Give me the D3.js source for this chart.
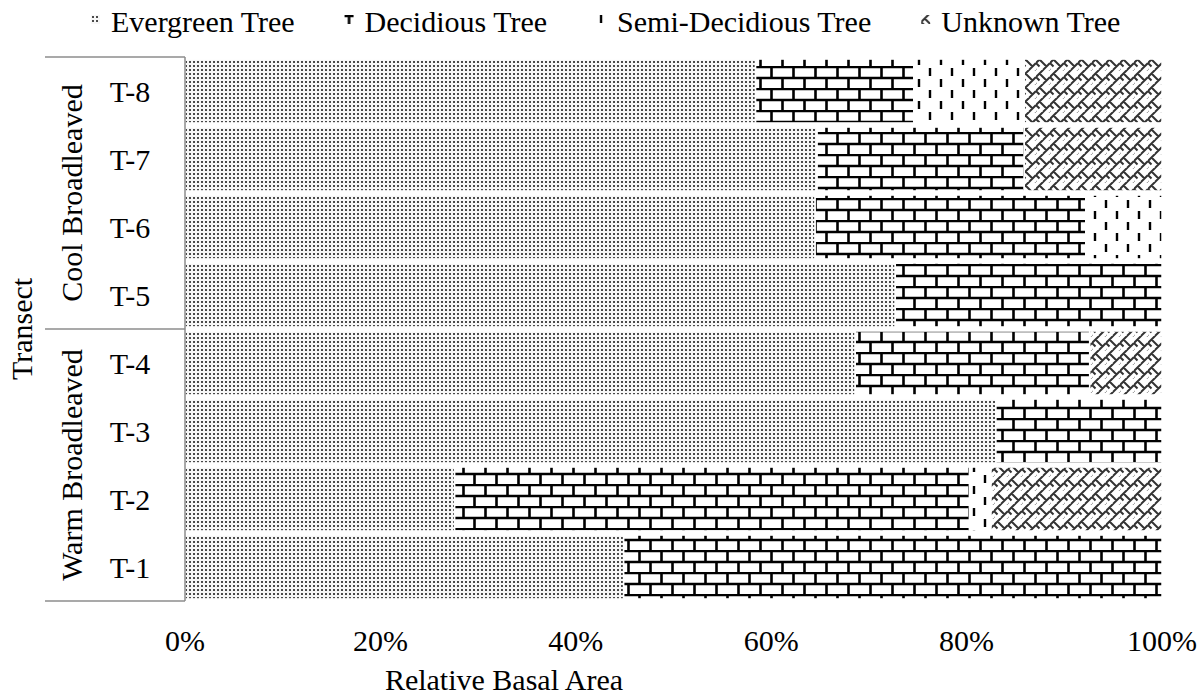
<!DOCTYPE html>
<html><head><meta charset="utf-8">
<script src="https://cdn.jsdelivr.net/npm/d3@7"></script>
<style>body{margin:0;background:#fff}svg{display:block}text{font-family:"Liberation Serif","Times New Roman",serif;fill:#000}</style>
</head><body><svg id="c" width="1204" height="696"></svg>
<script>
const transects = ["T-1","T-2","T-3","T-4","T-5","T-6","T-7","T-8"];
const groups = ["Warm Broadleaved","Warm Broadleaved","Warm Broadleaved","Warm Broadleaved","Cool Broadleaved","Cool Broadleaved","Cool Broadleaved","Cool Broadleaved"];
const seriesNames = ["Evergreen Tree","Decidious Tree","Semi-Decidious Tree","Unknown Tree"];
const evergreen     = [44.9, 27.6, 83.0, 68.6, 72.7, 64.5, 64.7, 58.4];
const decidious     = [55.1, 52.7, 17.0, 24.0, 27.3, 27.7, 21.2, 16.2];
const semiDecidious = [0,    2.2,  0,    0,    0,    7.8,  0,    11.3];
const unknown       = [0,    17.5, 0,    7.4,  0,    0,    14.1, 14.1];
const xTicks = [0, 0.2, 0.4, 0.6, 0.8, 1.0];

const svg = d3.select("#c");
const L = 185, R = 1162, T = 57, B = 601;
const FS = 30;
const defs = svg.append("defs");

// patterns
const p0 = defs.append("pattern").attr("id","pat0").attr("patternUnits","userSpaceOnUse").attr("width",4).attr("height",4);
p0.append("rect").attr("width",4).attr("height",4).attr("fill","#f7f7f7");
p0.append("rect").attr("x",1).attr("y",1).attr("width",2).attr("height",2).attr("fill","#4a4a4a");

const p1 = defs.append("pattern").attr("id","pat1").attr("patternUnits","userSpaceOnUse").attr("width",22).attr("height",22);
p1.append("rect").attr("width",22).attr("height",22).attr("fill","#fff");
p1.append("path").attr("d","M0,1 H22 M0,12 H22 M1.5,1 V12 M12.5,12 V22")
  .attr("stroke","#000").attr("stroke-width",2.6).attr("fill","none");

const p2 = defs.append("pattern").attr("id","pat2").attr("patternUnits","userSpaceOnUse").attr("width",22).attr("height",22);
p2.append("rect").attr("width",22).attr("height",22).attr("fill","#fff");
p2.append("path").attr("d","M6,2 V10 M17,13 V21").attr("stroke","#000").attr("stroke-width",2.4).attr("fill","none");

const p3 = defs.append("pattern").attr("id","pat3").attr("patternUnits","userSpaceOnUse").attr("width",14).attr("height",14);
p3.append("rect").attr("width",14).attr("height",14).attr("fill","#fff");
p3.append("path").attr("d","M0,7 L7,0 M7,14 L14,7 M-7,14 L0,7 M7,0 L14,-7 M3.5,3.5 L10.5,10.5 M10.5,-3.5 L14,0 M0,7 L3.5,10.5 M14,7 L17.5,10.5 M-3.5,10.5 L0,14")
  .attr("stroke","#333").attr("stroke-width",2).attr("fill","none");

const pats = ["url(#pat0)","url(#pat1)","url(#pat2)","url(#pat3)"];

const x = d3.scaleLinear().domain([0,1]).range([L,R]);
const y = d3.scaleBand().domain(transects.slice().reverse()).range([T,B]).paddingInner(0.06).paddingOuter(0.03);

const rows = transects.map((t,i)=>({t, vals:[evergreen[i],decidious[i],semiDecidious[i],unknown[i]]}));
const stackData = rows.map(r=>{const o={t:r.t}; seriesNames.forEach((s,k)=>o[s]=r.vals[k]/100); return o;});
const stacked = d3.stack().keys(seriesNames)(stackData);

stacked.forEach((layer,k)=>{
  svg.append("g").selectAll("rect").data(layer.filter(d=>d[1]-d[0]>0)).join("rect")
    .attr("x",d=>x(d[0])).attr("width",d=>x(d[1])-x(d[0]))
    .attr("y",d=>y(d.data.t)).attr("height",y.bandwidth())
    .attr("fill",pats[k]).attr("stroke","#fff").attr("stroke-width",1.5);
});

// axis lines & group frame
const lineColor = "#8c8c8c";
svg.append("line").attr("x1",L).attr("x2",L).attr("y1",T).attr("y2",B).attr("stroke",lineColor).attr("stroke-width",1.5);
const groupNames = Array.from(new Set(groups));
const boundaries = [T, B];
groupNames.forEach(g=>{
  const idx = transects.filter((t,i)=>groups[i]===g);
  const top = d3.min(idx, t=>y(t) - y.step()*y.paddingInner()/2);
  boundaries.push(top);
});
const uniqB = Array.from(new Set(boundaries.map(b=>Math.round(b))));
uniqB.forEach(b=>{
  svg.append("line").attr("x1",45).attr("x2",L).attr("y1",b).attr("y2",b).attr("stroke",lineColor).attr("stroke-width",1.5);
});

// category labels
svg.append("g").selectAll("text").data(transects).join("text")
  .attr("x",130).attr("y",t=>y(t)+y.bandwidth()/2).attr("dy","0.35em")
  .attr("text-anchor","middle").attr("font-size",FS).text(t=>t);

// group labels
groupNames.forEach(g=>{
  const idx = transects.filter((t,i)=>groups[i]===g);
  const ys = idx.map(t=>y(t)+y.bandwidth()/2);
  const cy = (d3.min(ys)+d3.max(ys))/2;
  svg.append("text").attr("transform",`translate(71,${cy}) rotate(-90)`).attr("dy","0.35em")
    .attr("text-anchor","middle").attr("font-size",FS).text(g);
});

// y title
svg.append("text").attr("transform",`translate(21,${(T+B)/2}) rotate(-90)`).attr("dy","0.35em")
  .attr("text-anchor","middle").attr("font-size",FS).text("Transect");

// x tick labels
svg.append("g").selectAll("text").data(xTicks).join("text")
  .attr("x",d=>x(d)).attr("y",640).attr("dy","0.35em").attr("text-anchor","middle")
  .attr("font-size",FS).text(d=>d3.format(".0%")(d));

svg.append("text").attr("x",504).attr("y",679).attr("dy","0.35em").attr("text-anchor","middle")
  .attr("font-size",FS).text("Relative Basal Area");

// legend: items laid out sequentially with equal gaps
const legend = svg.append("g");
const markerOffset = [[0,0],[8,11],[2,2],[0,0]];
let lx = 91;
seriesNames.forEach((name,i)=>{
  const [ox, oy] = markerOffset[i];
  legend.append("g").attr("transform",`translate(${lx-ox},${15-oy})`)
    .append("rect").attr("x",ox).attr("y",oy).attr("width",9).attr("height",9).attr("fill",pats[i]);
  const t = legend.append("text").attr("x",lx+20).attr("y",21).attr("dy","0.35em").attr("font-size",FS).text(name);
  lx = lx + 20 + t.node().getComputedTextLength() + 50;
});
</script></body></html>
